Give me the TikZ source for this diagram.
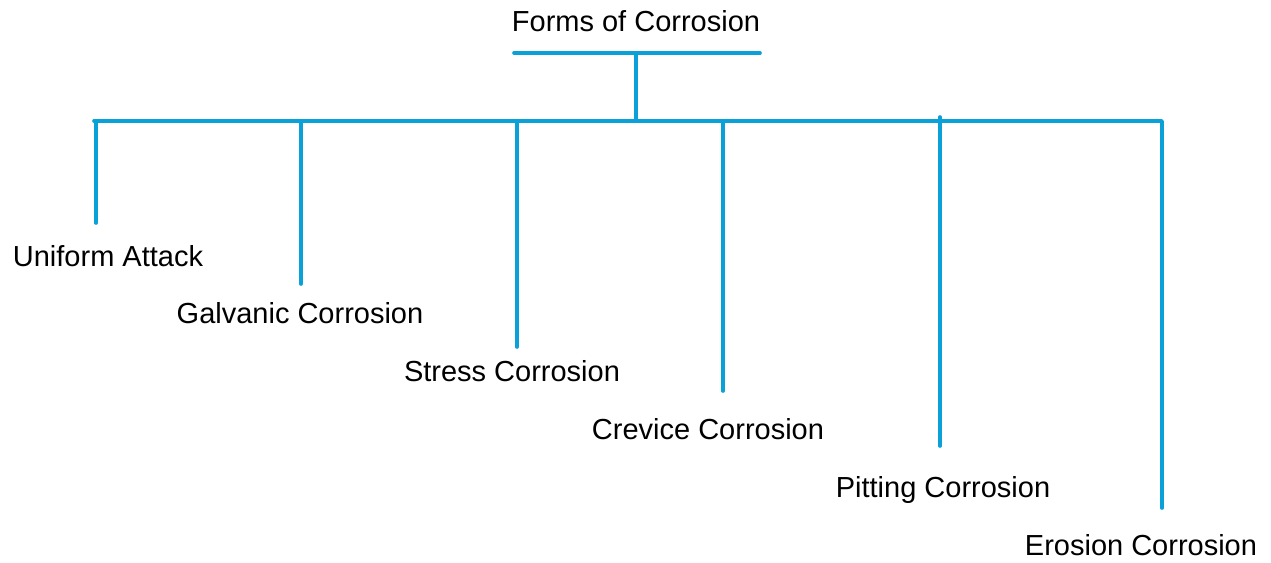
\documentclass[tikz,border=0pt]{standalone}
\usepackage{fontspec}
\setmainfont{Liberation Sans}
\definecolor{linecol}{HTML}{0AA0D8}
\begin{document}
\begin{tikzpicture}[x=1pt,y=-1pt,
  conn/.style={draw=linecol,line width=3.6pt,line cap=round,line join=round},
  lbl/.style={anchor=base,inner sep=0pt,font=\fontsize{29}{34}\selectfont,text=black}]
\useasboundingbox[fill=white] (0,0) rectangle (1271,562);
% texts
\node[lbl] (title) at (636,31) {Forms of Corrosion};
\node[lbl] (uni) at (108,266) {Uniform Attack};
\node[lbl] (gal) at (300,323) {Galvanic Corrosion};
\node[lbl] (str) at (512,381) {Stress Corrosion};
\node[lbl] (cre) at (708,439) {Crevice Corrosion};
\node[lbl] (pit) at (943,497) {Pitting Corrosion};
\node[lbl] (ero) at (1141,555) {Erosion Corrosion};
% coordinates
\coordinate (tl) at (514,53);
\coordinate (tr) at (760,53);
\coordinate (tm) at (636,53);
\coordinate (bm) at (636,121);
\coordinate (bl) at (94,121);
\coordinate (br) at (1162,121);
\coordinate (u0) at (96,121);   \coordinate (u1) at (96,223);
\coordinate (g0) at (301,121);  \coordinate (g1) at (301,284);
\coordinate (s0) at (517,121);  \coordinate (s1) at (517,347);
\coordinate (c0) at (723,121);  \coordinate (c1) at (723,391);
\coordinate (p0) at (940,117);  \coordinate (p1) at (940,446);
\coordinate (e1) at (1162,508);
% lines
\draw[conn] (tl) -- (tr);
\draw[conn] (tm) -- (bm);
\draw[conn] (bl) -- (br) -- (e1);
\draw[conn] (u0) -- (u1);
\draw[conn] (g0) -- (g1);
\draw[conn] (s0) -- (s1);
\draw[conn] (c0) -- (c1);
\draw[conn] (p0) -- (p1);
\end{tikzpicture}
\end{document}
